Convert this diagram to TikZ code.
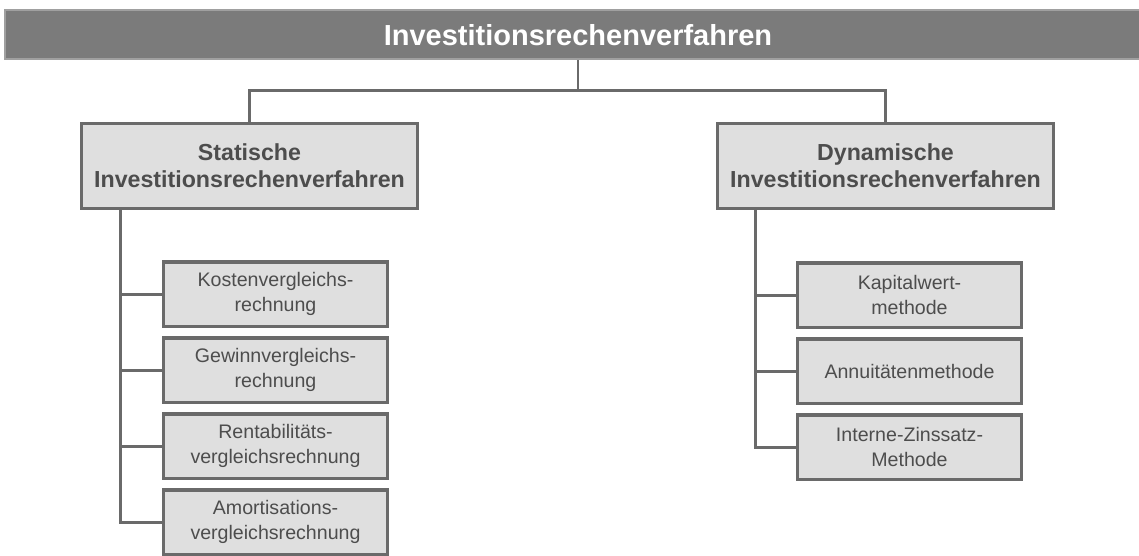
\documentclass[tikz,border=0pt]{standalone}
\usepackage{fontspec}
\setmainfont{Liberation Sans}
\usetikzlibrary{positioning}
\definecolor{bardark}{HTML}{7B7B7B}
\definecolor{barline}{HTML}{A0A0A0}
\definecolor{boxfill}{HTML}{DFDFDF}
\definecolor{boxline}{HTML}{6A6A6A}
\definecolor{textgray}{HTML}{4D4D4D}

\begin{document}
\begin{tikzpicture}[x=0.5pt,y=-0.5pt]
\tikzstyle{topbar}=[rectangle, fill=bardark, draw=barline, line width=1pt, minimum width=573pt, minimum height=24.5pt, inner sep=0pt, text=white, font=\bfseries\fontsize{14.5}{17}\selectfont]
\tikzstyle{mainbox}=[rectangle, fill=boxfill, draw=boxline, line width=1.8pt, minimum width=168pt, minimum height=42.5pt, inner sep=0pt, align=center, text=textgray, font=\bfseries\fontsize{11.6}{13.5}\selectfont]
\tikzstyle{subbox}=[rectangle, fill=boxfill, draw=boxline, line width=1.8pt, minimum width=112pt, minimum height=32.2pt, inner sep=0pt, align=center, text=textgray, font=\fontsize{9.8}{12.5}\selectfont, node distance=4pt]
\tikzstyle{connect}=[draw=boxline, line width=1.4pt]
  \useasboundingbox (0,0) rectangle (1139,556);
  \node[topbar] (title) at (578,35) {Investitionsrechenverfahren};
  \node[mainbox] (stat) at (249.5,166) {Statische\\Investitionsrechenverfahren};
  \node[mainbox] (dyn) at (885.5,166) {Dynamische\\Investitionsrechenverfahren};
  % statische Verfahren
  \node[subbox, below right=25pt and 41pt of stat.south west] (kvr) {Kostenvergleichs-\\rechnung};
  \node[subbox] (gvr) [below=of kvr] {Gewinnvergleichs-\\rechnung};
  \node[subbox] (rvr) [below=of gvr] {Rentabilitäts-\\vergleichsrechnung};
  \node[subbox] (avr) [below=of rvr] {Amortisations-\\vergleichsrechnung};
  % dynamische Verfahren
  \node[subbox, below right=25.5pt and 40pt of dyn.south west] (kwm) {Kapitalwert-\\methode};
  \node[subbox] (anm) [below=of kwm] {Annuitätenmethode};
  \node[subbox] (izm) [below=of anm] {Interne-Zinssatz-\\Methode};
  \draw[connect] (title.south) -- ++(0,-15pt) coordinate (hub);
  \draw[connect] (hub) -| (stat.north);
  \draw[connect] (hub) -| (dyn.north);
  \coordinate (ltrunk) at ([xshift=20.5pt]stat.south west);
  \coordinate (rtrunk) at ([xshift=20pt]dyn.south west);
  \draw[connect] (ltrunk) |- (avr.west);
  \draw[connect] (rtrunk) |- (izm.west);
  \foreach \n in {kvr,gvr,rvr}
    \draw[connect] (ltrunk |- \n.west) -- (\n.west);
  \foreach \n in {kwm,anm}
    \draw[connect] (rtrunk |- \n.west) -- (\n.west);
\end{tikzpicture}
\end{document}
